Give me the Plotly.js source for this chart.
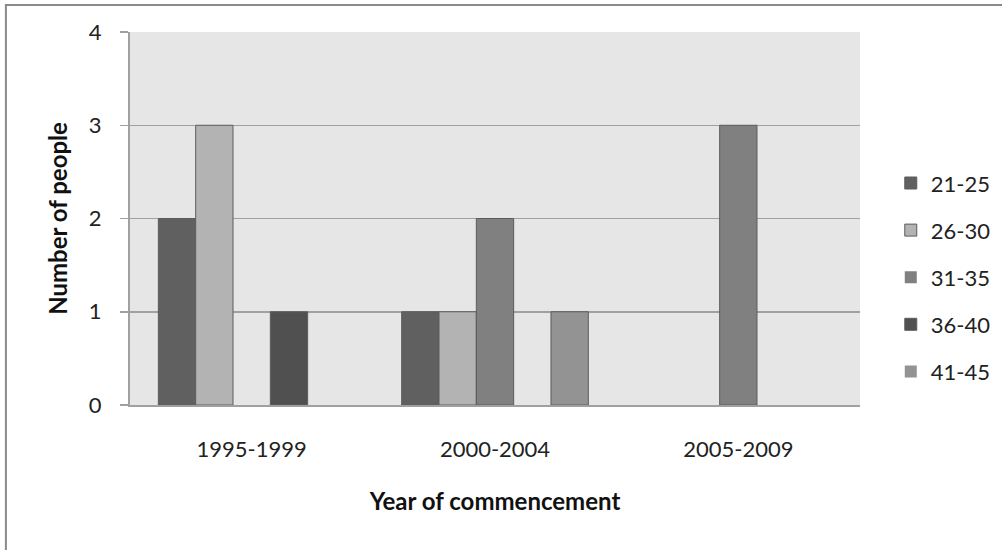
<!DOCTYPE html>
<html><head><meta charset="utf-8">
<script src="https://cdn.plot.ly/plotly-3.0.1.min.js"></script>
<style>html,body{margin:0;padding:0;background:#fff}#c{width:1002px;height:550px}</style>
</head><body><div id="c"></div>
<script>
const categories = ["1995-1999", "2000-2004", "2005-2009"];
const seriesNames = ["21-25", "26-30", "31-35", "36-40", "41-45"];
const s2125 = [2, 1, 0];
const s2630 = [3, 1, 0];
const s3135 = [0, 2, 3];
const s3640 = [1, 0, 0];
const s4145 = [0, 1, 0];
const yTicks = [0, 1, 2, 3, 4];

const seriesValues = [s2125, s2630, s3135, s3640, s4145];
const colors = ["#606060", "#b3b3b3", "#808080", "#505050", "#939393"];
const font = "Lato, 'Open Sans', sans-serif";

const traces = seriesNames.map((n, i) => ({
  type: "bar", name: n, x: categories, y: seriesValues[i],
  legendgroup: "g" + i,
  marker: {color: colors[i], line: {color: "#5c5c5c", width: seriesValues[i].map(v => v === 0 ? 0 : 1)}}
}));

const layout = {
  width: 1002, height: 550,
  margin: {l: 130, r: 142, t: 32, b: 145},
  paper_bgcolor: "#ffffff", plot_bgcolor: "#e6e6e6",
  barmode: "group", bargap: 0.233, bargroupgap: 0,
  font: {family: font, size: 22, color: "#222"},
  showlegend: true,
  legend: {xref: "container", yref: "container", x: 0.889, xanchor: "left", y: 0.496, yanchor: "middle",
    font: {family: font, size: 22, color: "#222"},
    tracegroupgap: 15.5, itemwidth: 30, bgcolor: "rgba(0,0,0,0)"},
  xaxis: {showgrid: false, showline: true, linecolor: "#a0a0a0", linewidth: 2,
    ticks: "", tickfont: {family: font, size: 22, color: "#222"}, ticklabelstandoff: 24,
    title: {text: "<b>Year of commencement</b>", font: {family: font, size: 24, color: "#111"}, standoff: 32},
    fixedrange: true},
  yaxis: {range: [0, 4], tickvals: yTicks, ticktext: yTicks.map(String),
    showgrid: true, gridcolor: "#a0a0a0", gridwidth: 1.5,
    showline: true, linecolor: "#a0a0a0", linewidth: 2,
    ticks: "outside", ticklen: 8, tickcolor: "#a0a0a0", tickwidth: 1.5,
    tickfont: {family: font, size: 22, color: "#222"}, ticklabelstandoff: 14,
    zeroline: false,
    title: {text: "<b>Number of people</b>", font: {family: font, size: 24, color: "#111"}, standoff: 14}},
  shapes: [{type: "rect", xref: "paper", yref: "paper",
    x0: -0.170, x1: 1.2, y0: -0.5, y1: 1.0724,
    line: {color: "#8a8a8a", width: 2}, fillcolor: "rgba(0,0,0,0)", layer: "below"}]
};
Plotly.newPlot("c", traces, layout, {displayModeBar: false, staticPlot: true});
</script></body></html>
